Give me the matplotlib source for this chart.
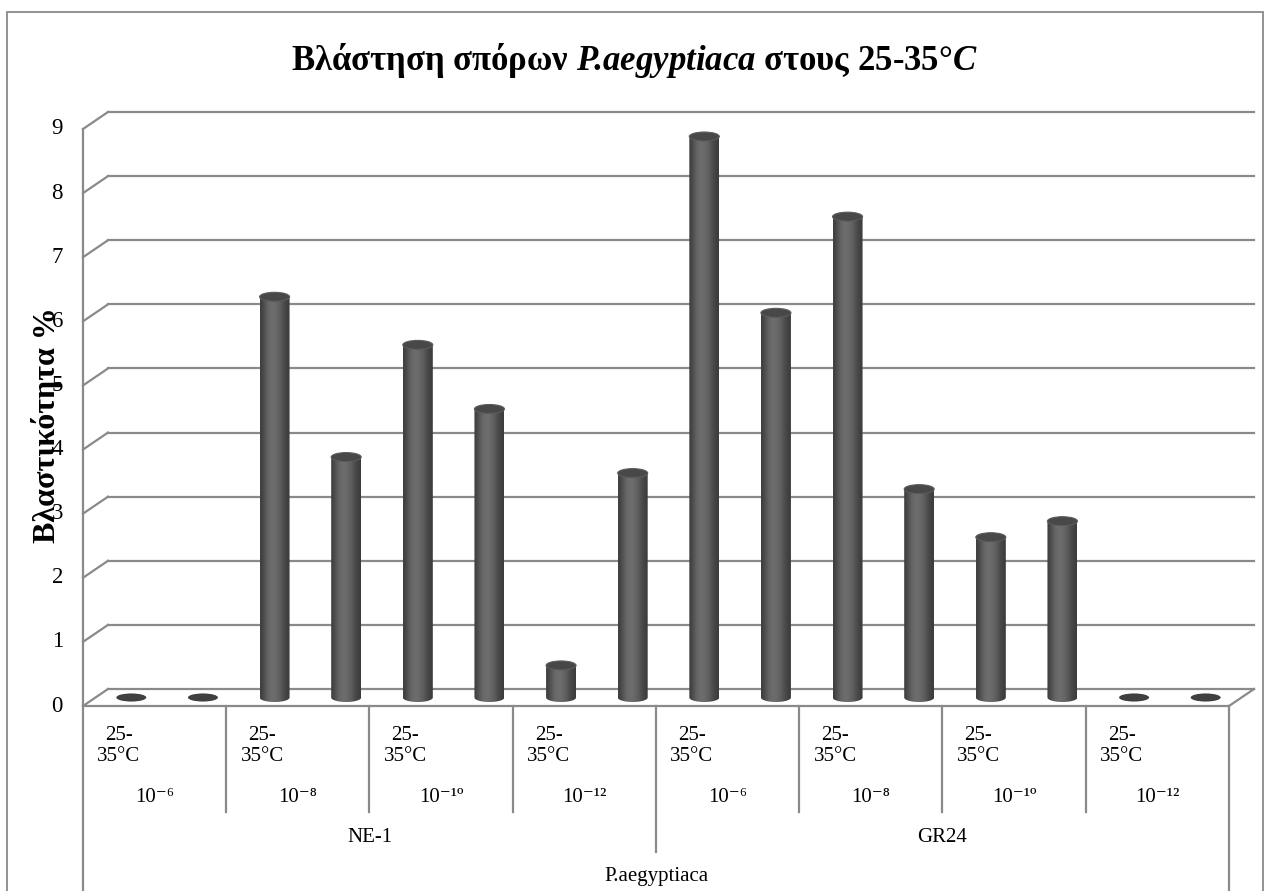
"""3D-style cylinder column chart: seed germination of P.aegyptiaca at 25-35°C."""

import numpy as np
import matplotlib

matplotlib.use("Agg")
import matplotlib.pyplot as plt  # noqa: E402
from matplotlib.patches import Ellipse, PathPatch, Rectangle  # noqa: E402
from matplotlib.path import Path  # noqa: E402

plt.rcParams["font.family"] = ["Liberation Serif", "DejaVu Serif"]
plt.rcParams["mathtext.fontset"] = "custom"
plt.rcParams["mathtext.rm"] = "Liberation Serif:bold"
plt.rcParams["mathtext.it"] = "Liberation Serif:italic:bold"

# --- data -------------------------------------------------------------------
values = [0, 0, 6.25, 3.75, 5.5, 4.5, 0.5, 3.5,
          8.75, 6, 7.5, 3.25, 2.5, 2.75, 0, 0]
temp_label = "25-\n35°C"
concentrations = ["10⁻⁶", "10⁻⁸", "10⁻¹º", "10⁻¹²"]
treatments = ["NE-1", "GR24"]
species = "P.aegyptiaca"
y_ticks = list(range(10))
title = ("Βλάστηση σπόρων $\\mathit{P}\\!\\mathit{.}\\!\\mathit{aegyptiaca}$"
         " στους 25-35°$\\mathit{C}$")
y_label = "Βλαστικότητα %"

# --- layout (pixels of the 1266x891 canvas) ---------------------------------
W, H = 1266, 891
X0_PX, Y0_PX = 83, 706          # front-left corner of the floor
PX_X = 1146 / len(values)       # pixels per category
PX_Y = 577 / 9                  # pixels per value unit
DX, DY = 25 / PX_X, 17 / PX_Y   # depth offset of the back wall
GRID = "#8a8a8a"

fig = plt.figure(figsize=(W / 100, H / 100), dpi=100)
ax = fig.add_axes([0, 0, 1, 1])
ax.axis("off")
xlim = (-X0_PX / PX_X, (W - X0_PX) / PX_X)
ylim = (-(H - Y0_PX) / PX_Y, Y0_PX / PX_Y)


def ypx(py):
    """Canvas row (from top) -> data y."""
    return (Y0_PX - py) / PX_Y


def xpx(px):
    return (px - X0_PX) / PX_X


n = len(values)

# outer chart border
fig.patches.append(Rectangle((7 / W, -0.01), (1263 - 7) / W, 1.01 - 12 / H,
                             transform=fig.transFigure, fill=False,
                             edgecolor=GRID, lw=1.3))

# back wall gridlines + side wall diagonals
for t in y_ticks:
    ax.plot([DX, n + DX], [t + DY, t + DY], color=GRID, lw=1.6, zorder=1)
    ax.plot([0, DX], [t, t + DY], color=GRID, lw=1.6, zorder=1)
# left axis
ax.plot([0, 0], [ylim[0], y_ticks[-1]], color=GRID, lw=1.6, zorder=1)
# floor front edge and right edge
ax.plot([0, n], [0, 0], color=GRID, lw=1.6, zorder=1)
ax.plot([n, n + DX], [0, DY], color=GRID, lw=1.6, zorder=1)
ax.plot([n, n], [ylim[0], 0], color=GRID, lw=1.6, zorder=1)

# --- cylinders ----------------------------------------------------------------
bar_w = 30 / PX_X
ell_h = 9 / PX_Y
grad = np.array([[0.25, 0.33, 0.40, 0.43, 0.42, 0.39, 0.34, 0.28, 0.24]])
for i, v in enumerate(values):
    cx = i + 0.5 + DX / 2
    base = DY / 2
    if v == 0:
        ax.add_patch(Ellipse((cx, base), bar_w, ell_h * 0.9, facecolor="#404040",
                             edgecolor="none", zorder=3))
        continue
    top = base + v
    left, right = cx - bar_w / 2, cx + bar_w / 2
    theta = np.linspace(0, -np.pi, 40)
    arc = np.column_stack([cx + bar_w / 2 * np.cos(theta),
                           base + ell_h / 2 * np.sin(theta)])
    verts = np.vstack([[right, top], arc, [left, top], [right, top]])
    codes = [Path.MOVETO] + [Path.LINETO] * (len(verts) - 2) + [Path.CLOSEPOLY]
    clip = PathPatch(Path(verts, codes), facecolor="none", edgecolor="none")
    ax.add_patch(clip)
    im = ax.imshow(grad, cmap="gray", vmin=0, vmax=1, aspect="auto",
                   extent=(left, right, base - ell_h / 2, top),
                   interpolation="bicubic", zorder=3)
    im.set_clip_path(clip)
    ax.add_patch(Ellipse((cx, top), bar_w, ell_h, facecolor="#484848",
                         edgecolor="#5c5c5c", lw=0.8, zorder=4))

# --- y axis text ------------------------------------------------------------
for t in y_ticks:
    ax.text(xpx(63), t, str(t), ha="right", va="center", fontsize=16.5,
            zorder=5)
ax.text(xpx(47), ypx(425), y_label, rotation=90, ha="center", va="center",
        fontsize=23, fontweight="bold", zorder=6)

# --- category table below the floor ------------------------------------------
group = n // (len(treatments) * len(concentrations))
for g in range(n // group):
    gx = g * group
    ax.text(gx + 0.5, ypx(746), temp_label, ha="center", va="center",
            fontsize=15, linespacing=1.15)
    ax.text(gx + group / 2, ypx(798), concentrations[g % len(concentrations)],
            ha="center", va="center", fontsize=15)
    if g > 0:
        bottom = ypx(852) if gx == n // 2 else ypx(812)
        ax.plot([gx, gx], [0, bottom], color=GRID, lw=1.6)
half = n / len(treatments)
for k, name in enumerate(treatments):
    ax.text(half * (k + 0.5), ypx(838), name, ha="center", va="center",
            fontsize=15)
ax.text(n / 2, ypx(877), species, ha="center", va="center", fontsize=15)

# --- title --------------------------------------------------------------------
ax.text(xpx(634), ypx(60), title, ha="center", va="center", fontsize=25,
        fontweight="bold")

ax.set_xlim(*xlim)
ax.set_ylim(*ylim)
fig.savefig("out.png", dpi=100)
